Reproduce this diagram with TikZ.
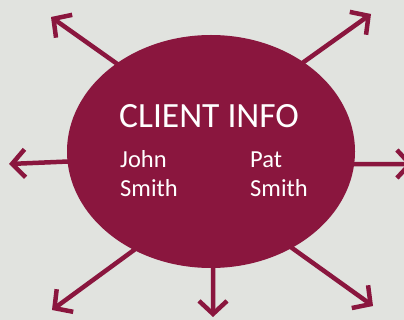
\documentclass[tikz,border=0pt]{standalone}
\usepackage{fontspec}
\setmainfont{Carlito}
\usetikzlibrary{arrows.meta,backgrounds,shapes.geometric}
\definecolor{crim}{RGB}{138,22,62}
\definecolor{bg}{RGB}{225,227,223}
\tikzset{
  blob/.style={ellipse, fill=crim, draw=none, minimum width=288pt, minimum height=233pt, inner sep=0pt, outer sep=0pt},
  ray/.style={draw=crim, line width=4.5pt, shorten <=-4pt, -{Straight Barb[length=13pt,width=28pt]}},
  ttltext/.style={text=white, font=\fontsize{35.5}{40}\selectfont, inner sep=0pt, anchor=base west},
  nmtext/.style={text=white, font=\fontsize{24.5}{29}\selectfont, inner sep=0pt, anchor=base west}
}
\begin{document}
\begin{tikzpicture}[x=1pt,y=-1pt]
\useasboundingbox (0,0) rectangle (404,320);
\node[blob] (c) at (211,151.5) {};
\coordinate (tUL) at (51,17);
\coordinate (tUR) at (371,14);
\coordinate (tL) at (9,164);
\coordinate (tR) at (413,164);
\coordinate (tLL) at (52,310);
\coordinate (tD) at (213,317);
\coordinate (tLR) at (373,306);
\begin{scope}[on background layer]
\fill[bg] (0,0) rectangle (404,320);
\draw[ray] (c.137.3) -- (tUL);
\draw[ray] (c.44.5) -- (tUR);
\draw[ray] (c.184.6) -- (tL);
\draw[ray] (c.355.4) -- (tR);
\draw[ray] (c.232.3) -- (tLL);
\draw[ray] (c.271) -- (tD);
\draw[ray] (c.310.7) -- (tLR);
\end{scope}
\node[ttltext] (ti) at (119,128) {CLIENT INFO};
\node[nmtext] (j1) at (120,168) {John};
\node[nmtext] (j2) at (120,197) {Smith};
\node[nmtext] (p1) at (250,168) {Pat};
\node[nmtext] (p2) at (250,197) {Smith};
\end{tikzpicture}
\end{document}
